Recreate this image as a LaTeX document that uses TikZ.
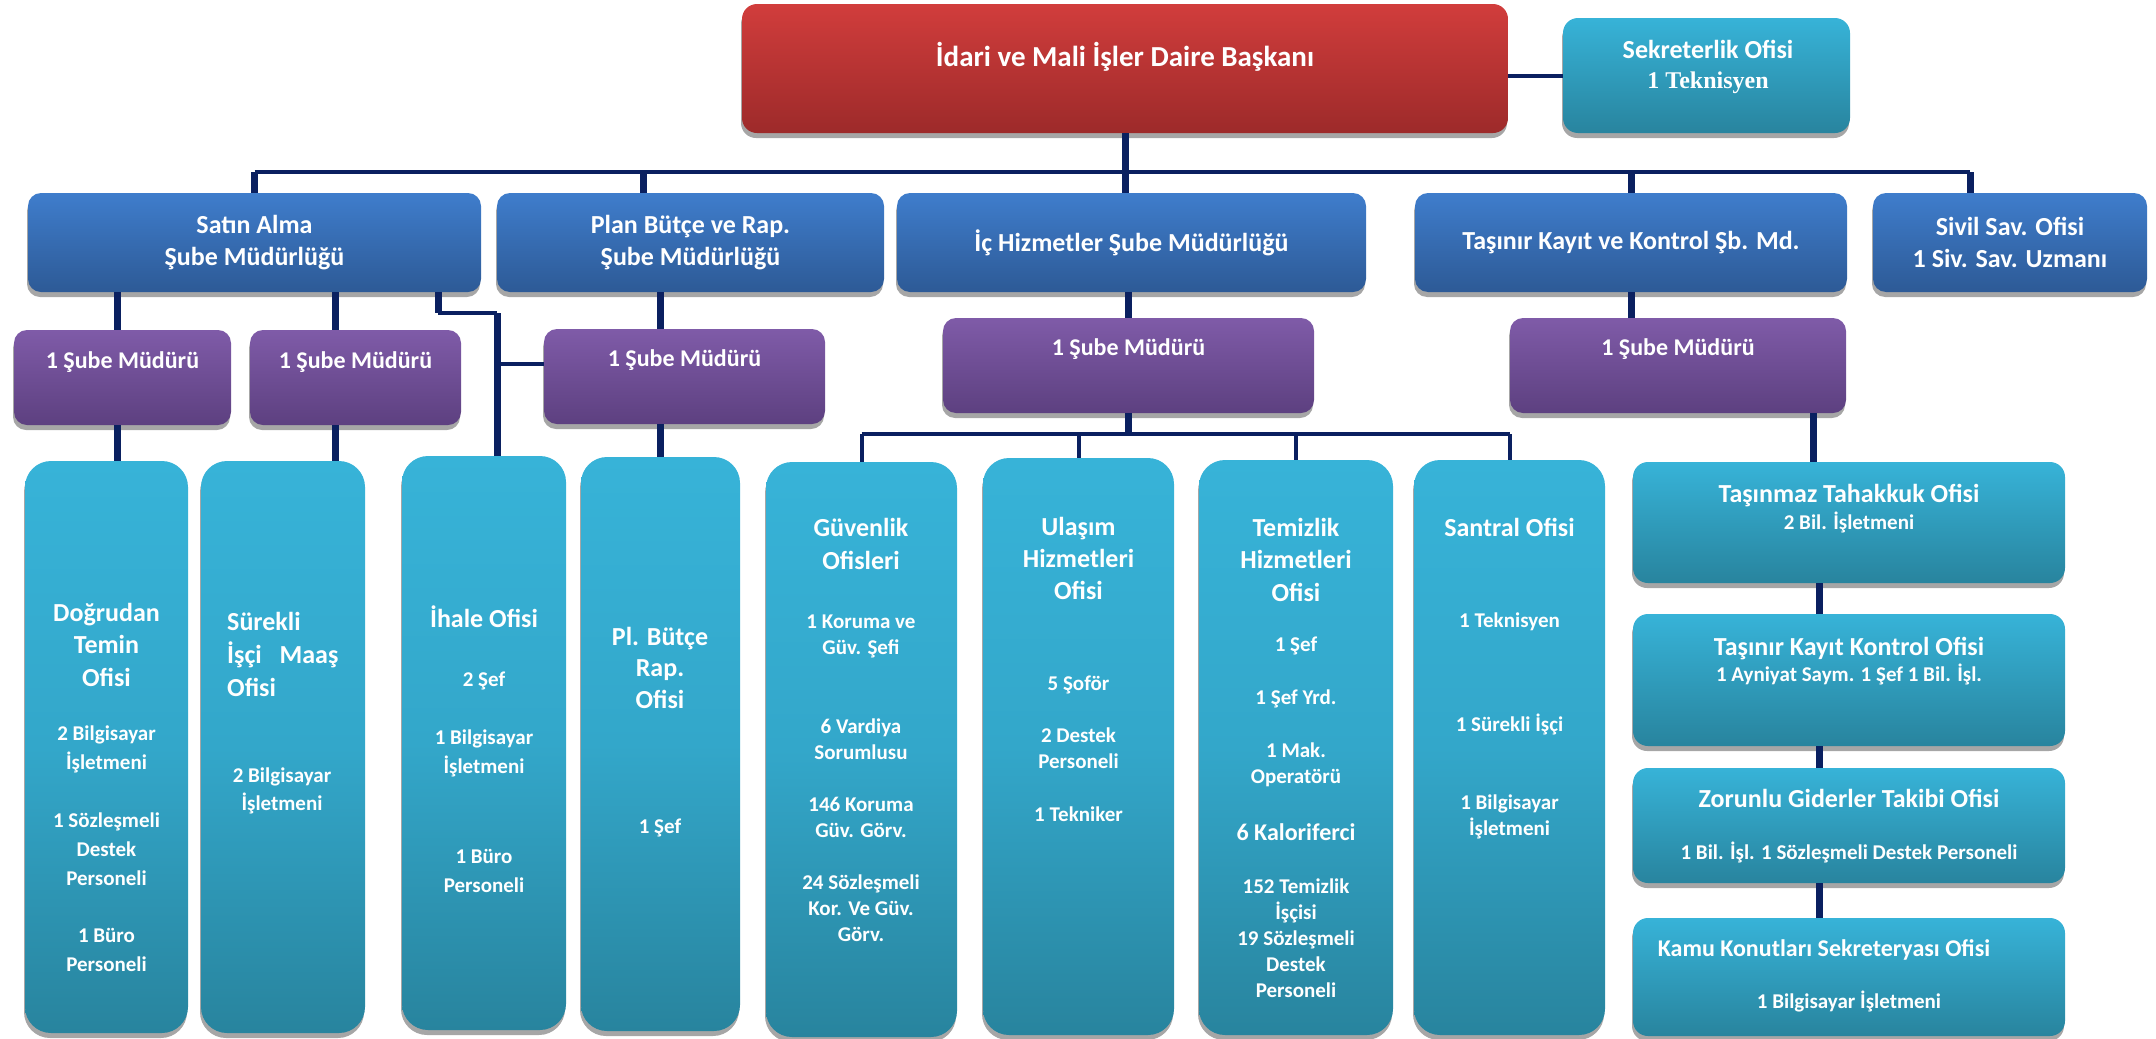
\documentclass[tikz,border=0pt]{standalone}
\usepackage{fontspec}
\setmainfont{Carlito}
\newfontfamily\serifbold{Liberation Serif}[Scale=1]
\usetikzlibrary{shadows}
\definecolor{chieftop}{HTML}{D13D3C}
\definecolor{chiefbot}{HTML}{9D2A2A}
\definecolor{unittop}{HTML}{3F7DCC}
\definecolor{unitbot}{HTML}{2D5A96}
\definecolor{mgrtop}{HTML}{7F5BA8}
\definecolor{mgrbot}{HTML}{5D4080}
\definecolor{officetop}{HTML}{37B3D8}
\definecolor{officemid}{HTML}{33A7CA}
\definecolor{officebot}{HTML}{28849E}
\definecolor{connblue}{HTML}{0A2060}
\definecolor{shgray}{HTML}{A6A6A6}

\begin{document}
\begin{tikzpicture}[
  x=1pt, y=-1pt,
  box/.style={rounded corners=13pt, inner sep=0pt, text=white, align=center,
    font=\bfseries\fontsize{26}{32}\selectfont,
    drop shadow={shadow xshift=-1pt, shadow yshift=-5pt, fill=shgray, opacity=1}},
  sz/.style 2 args={minimum width=#1pt, minimum height=#2pt},
  chief/.style={box, rounded corners=15pt, top color=chieftop, bottom color=chiefbot},
  unit/.style={box, top color=unittop, bottom color=unitbot},
  mgr/.style={box, top color=mgrtop, bottom color=mgrbot},
  office/.style={box, rounded corners=26pt, top color=officetop, bottom color=officebot, middle color=officemid},
  side/.style={box, rounded corners=15pt, top color=officetop, bottom color=officebot},
  ttl/.style={text=white, inner sep=0pt, anchor=base, align=center, font=\bfseries\fontsize{26}{32.5}\selectfont},
  txt/.style={text=white, inner sep=0pt, anchor=base, align=center, font=\bfseries\fontsize{21}{26}\selectfont},
  mtxt/.style={text=white, inner sep=0pt, anchor=base, font=\bfseries\fontsize{24}{28}\selectfont},
  vline/.style={line width=7pt, draw=connblue},
  hline/.style={line width=4pt, draw=connblue}
]
\useasboundingbox (0,0) rectangle (2156,1039);

% head and secretary
\node[chief, sz={766}{129}] (daire) at (1125,68.5) {};
\node[ttl, font=\bfseries\fontsize{29}{34}\selectfont] (daireT) at (1125,66) {İdari ve Mali İşler Daire Başkanı};
\node[side, sz={287}{115}] (sekreter) at (1706.5,75.5) {};
\node[ttl, font=\bfseries\fontsize{26}{30}\selectfont] (sekreterT) at (1708,88)
  {Sekreterlik Ofisi\\{\serifbold\fontsize{24}{30}\selectfont 1 Teknisyen}};

% branch directorates
\node[unit, sz={453}{99}] (satin) at (254.5,242.5) {Satın Alma\\Şube Müdürlüğü};
\node[unit, sz={387}{99}] (plan) at (690.5,242.5) {Plan Bütçe ve Rap.\\Şube Müdürlüğü};
\node[unit, sz={469}{99}] (ic) at (1131.5,242.5) {İç Hizmetler Şube Müdürlüğü};
\node[unit, sz={432}{99}] (tasinir) at (1631,242.5) {Taşınır Kayıt ve Kontrol Şb. Md.};
\node[unit, sz={274}{99}] (sivil) at (2010,242.5) {Sivil Sav. Ofisi\\1 Siv. Sav. Uzmanı};

% managers
\node[mgr, sz={217}{95}] (mgr1) at (122.5,377.5) {};
\node[mtxt] (mgr1T) at (122.5,368) {1 Şube Müdürü};
\node[mgr, sz={211}{95}] (mgr2) at (355.5,377.5) {};
\node[mtxt] (mgr2T) at (355.5,368) {1 Şube Müdürü};
\node[mgr, sz={281}{95}] (mgr3) at (684.5,376.5) {};
\node[mtxt] (mgr3T) at (684.5,366) {1 Şube Müdürü};
\node[mgr, sz={371}{95}] (mgr4) at (1128.5,365.5) {};
\node[mtxt] (mgr4T) at (1128.5,355) {1 Şube Müdürü};
\node[mgr, sz={336}{95}] (mgr5) at (1678,365.5) {};
\node[mtxt] (mgr5T) at (1678,355) {1 Şube Müdürü};

% offices
\node[office, sz={163}{572}] (dogr) at (106.5,747) {};
\node[ttl] (dogrT) at (106.5,686) {Doğrudan\\Temin\\Ofisi};
\node[txt, font=\bfseries\fontsize{21}{29}\selectfont] (dogrB) at (106.5,971)
  {2 Bilgisayar\\İşletmeni\\[29pt]1 Sözleşmeli\\Destek\\Personeli\\[28pt]1 Büro\\Personeli};

\node[office, sz={164}{572}] (surekli) at (283,747) {};
\node[ttl, anchor=base west, align=left, font=\bfseries\fontsize{26}{33}\selectfont] (surekliT) at (227,696)
  {Sürekli\\İşçi\hspace{12pt} Maaş\\Ofisi};
\node[txt, font=\bfseries\fontsize{21}{28}\selectfont] (surekliB) at (282,810) {2 Bilgisayar\\İşletmeni};

\node[office, sz={164}{574}] (ihale) at (484,743) {};
\node[ttl] (ihaleT) at (484,627) {İhale Ofisi};
\node[txt, font=\bfseries\fontsize{21}{29}\selectfont] (ihaleB) at (484,892)
  {2 Şef\\[29pt]1 Bilgisayar\\İşletmeni\\[61pt]1 Büro\\Personeli};

\node[office, sz={159}{574}] (plb) at (660.5,744) {};
\node[ttl, font=\bfseries\fontsize{26}{31.5}\selectfont] (plbT) at (660,708) {Pl. Bütçe\\Rap.\\Ofisi};
\node[txt] (plbB) at (660,833) {1 Şef};

\node[office, sz={191}{575}] (guv) at (861.5,749.5) {};
\node[ttl, font=\bfseries\fontsize{26}{33}\selectfont] (guvT) at (861,569) {Güvenlik\\Ofisleri};
\node[txt] (guvB) at (861,941)
  {1 Koruma ve\\Güv. Şefi\\[53pt]6 Vardiya\\Sorumlusu\\[26pt]146 Koruma\\Güv. Görv.\\[26pt]24 Sözleşmeli\\Kor. Ve Güv.\\Görv.};

\node[office, sz={191}{577}] (ulasim) at (1078.5,746.5) {};
\node[ttl, font=\bfseries\fontsize{26}{32}\selectfont] (ulasimT) at (1078.5,599) {Ulaşım\\Hizmetleri\\Ofisi};
\node[txt] (ulasimB) at (1078.5,821) {5 Şoför\\[26pt]2 Destek\\Personeli\\[27pt]1 Tekniker};

\node[office, sz={194}{575}] (temiz) at (1296,747.5) {};
\node[ttl] (temizT) at (1296,601) {Temizlik\\Hizmetleri\\Ofisi};
\node[txt] (temizB) at (1296,783) {1 Şef\\[27pt]1 Şef Yrd.\\[27pt]1 Mak.\\Operatörü};
\node[ttl, font=\bfseries\fontsize{24}{30}\selectfont] (temizK) at (1296,840) {6 Kaloriferci};
\node[txt] (temizC) at (1296,997) {152 Temizlik\\İşçisi\\19 Sözleşmeli\\Destek\\Personeli};

\node[office, sz={191}{575}] (santral) at (1509.5,747.5) {};
\node[ttl] (santralT) at (1509.5,536) {Santral Ofisi};
\node[txt] (santralB) at (1509.5,835) {1 Teknisyen\\[78pt]1 Sürekli İşçi\\[52pt]1 Bilgisayar\\İşletmeni};

% right column
\node[side, sz={432}{121}] (tasinmaz) at (1849,522.5) {};
\node[ttl] (tasinmazT) at (1849,502) {Taşınmaz Tahakkuk Ofisi};
\node[txt] (tasinmazB) at (1849,529) {2 Bil. İşletmeni};
\node[side, sz={432}{132}] (tkk) at (1849,680) {};
\node[ttl] (tkkT) at (1849,655) {Taşınır Kayıt Kontrol Ofisi};
\node[txt] (tkkB) at (1849,681) {1 Ayniyat Saym. 1 Şef 1 Bil. İşl.};
\node[side, sz={432}{115}] (zorunlu) at (1849,825.5) {};
\node[ttl] (zorunluT) at (1849,807) {Zorunlu Giderler Takibi Ofisi};
\node[txt] (zorunluB) at (1849,859) {1 Bil. İşl. 1 Sözleşmeli Destek Personeli};
\node[side, sz={432}{118}] (kamu) at (1849,977) {};
\node[ttl, font=\bfseries\fontsize{24}{30}\selectfont] (kamuT) at (1824,956) {Kamu Konutları Sekreteryası Ofisi};
\node[txt] (kamuB) at (1849,1008) {1 Bilgisayar İşletmeni};

% connectors
\coordinate (bus) at (0,172);
\coordinate (bus2) at (0,434);
\coordinate (satinR) at (438,292);
\coordinate (ihaleK) at (497,313);

\draw[hline] (sekreter.west) -- (sekreter.west -| daire.east);
\draw[vline] (daire.south) -- (daire.south |- ic.north);
\draw[hline] (satin.north |- bus) -- ([xshift=-40pt]sivil.north |- bus);
\draw[vline] (satin.north |- bus) -- (satin.north);
\draw[vline] ([xshift=-47pt]plan.north |- bus) -- ([xshift=-47pt]plan.north);
\draw[vline] (tasinir.north |- bus) -- (tasinir.north);
\draw[vline] ([xshift=-40pt]sivil.north |- bus) -- ([xshift=-40pt]sivil.north);

\draw[vline] ([xshift=-5pt]mgr1.north |- satin.south) -- ([xshift=-5pt]mgr1.north);
\draw[vline] ([xshift=-5pt]mgr1.south) -- ([xshift=-5pt]mgr1.south |- dogr.north);
\draw[vline] ([xshift=-20pt]mgr2.north |- satin.south) -- ([xshift=-20pt]mgr2.north);
\draw[vline] ([xshift=-20pt]mgr2.south) -- ([xshift=-20pt]mgr2.south |- surekli.north);
\draw[vline] (satinR) -- (satinR |- ihaleK);
\draw[hline] (satinR |- ihaleK) -- (ihaleK);
\draw[vline] (ihaleK) -- (ihaleK |- ihale.north);
\draw[hline] ([yshift=13pt]mgr3.west) -- ([yshift=13pt]mgr3.west -| ihaleK);
\draw[vline] (plb.north |- plan.south) -- (plb.north |- mgr3.north);
\draw[vline] (plb.north |- mgr3.south) -- (plb.north);

\draw[vline] (mgr4.north |- ic.south) -- (mgr4.north);
\draw[vline] (mgr4.south) -- (mgr4.south |- bus2);
\draw[hline] (guv.north |- bus2) -- (santral.north |- bus2);
\draw[hline] (guv.north |- bus2) -- (guv.north);
\draw[hline] (ulasim.north |- bus2) -- (ulasim.north);
\draw[hline] (temiz.north |- bus2) -- (temiz.north);
\draw[hline] (santral.north |- bus2) -- (santral.north);

\draw[vline] (tasinir.south) -- (tasinir.south |- mgr5.north);
\draw[vline] ([xshift=-36pt]tasinmaz.north |- mgr5.south) -- ([xshift=-36pt]tasinmaz.north);
\draw[vline] ([xshift=-30pt]tasinmaz.south) -- ([xshift=-30pt]tkk.north);
\draw[vline] ([xshift=-30pt]tkk.south) -- ([xshift=-30pt]zorunlu.north);
\draw[vline] ([xshift=-30pt]zorunlu.south) -- ([xshift=-30pt]kamu.north);
\end{tikzpicture}
\end{document}
